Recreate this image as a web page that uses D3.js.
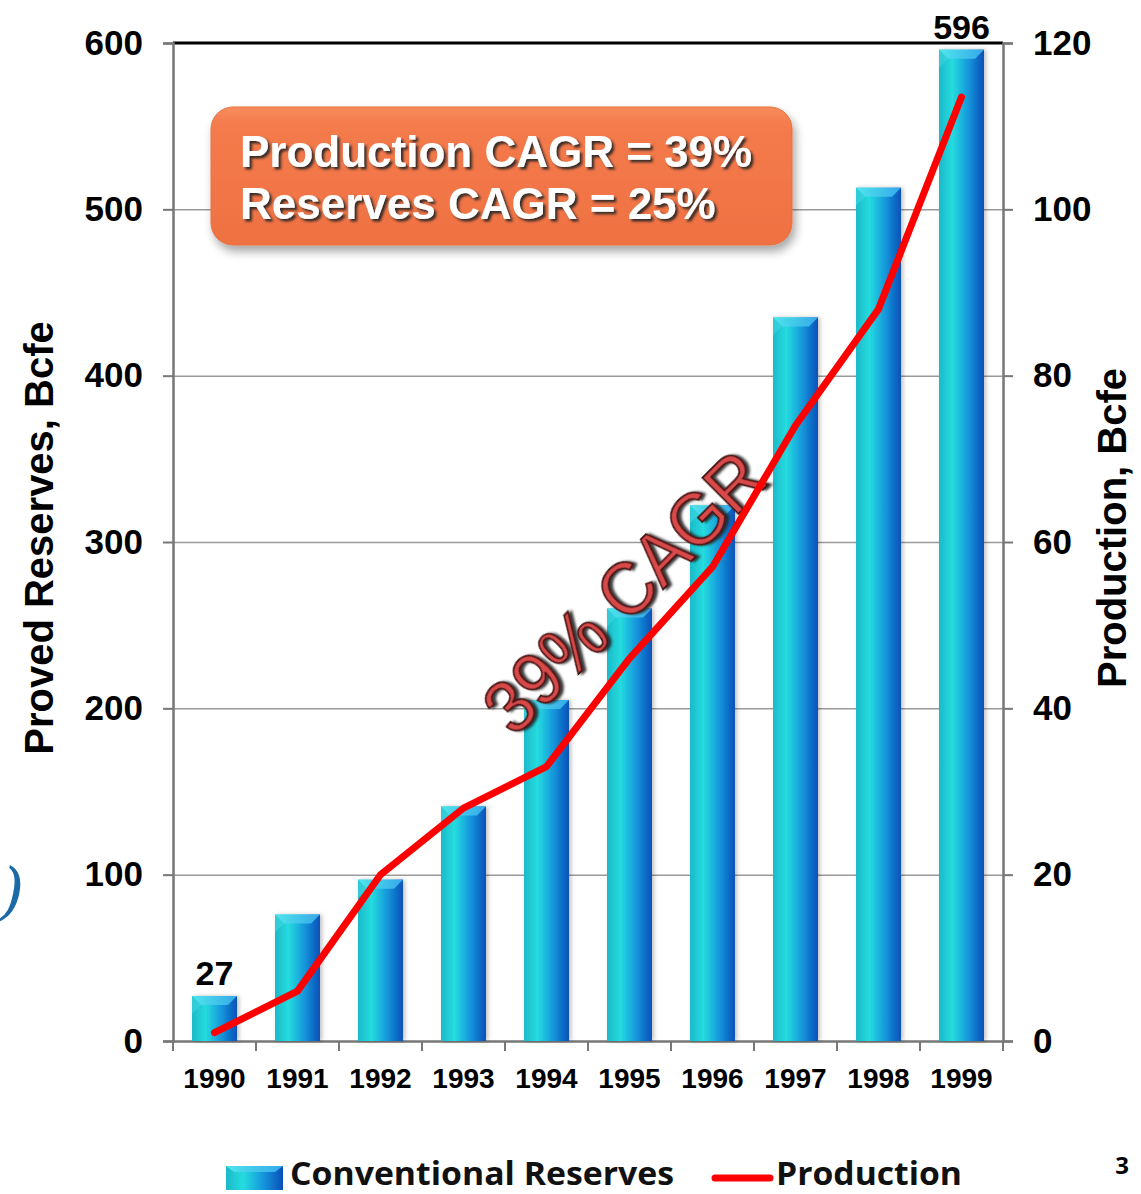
<!DOCTYPE html>
<html>
<head>
<meta charset="utf-8">
<script src="https://cdn.jsdelivr.net/npm/d3@7"></script>
<style>
  body { margin: 0; background: #fff; }
  svg text { font-family: "Liberation Sans", Arial, sans-serif; }
</style>
</head>
<body>
<div id="chart"></div>
<script>
// Chart data
const years = ["1990", "1991", "1992", "1993", "1994", "1995", "1996", "1997", "1998", "1999"];
const reserves = [27, 76, 97, 141, 205, 260, 322, 435, 513, 596];      // Bcfe, left axis
const production = [1, 6, 20, 28, 33, 46, 57, 74, 88, 113.5];         // Bcfe, right axis
const leftTicks = [0, 100, 200, 300, 400, 500, 600];
const rightTicks = [0, 20, 40, 60, 80, 100, 120];
const labelledBars = ["1990", "1999"];

// Plot box
const plotLeft = 173, plotRight = 1003, plotTop = 43, plotBottom = 1041;

const svg = d3.select("#chart")
    .append("svg")
    .attr("width", 1141)
    .attr("height", 1194);

const defs = svg.append("defs");

// bar body gradient (cyan -> blue)
const barGrad = defs.append("linearGradient").attr("id", "barGrad")
    .attr("x1", "0%").attr("x2", "100%").attr("y1", "0%").attr("y2", "0%");
barGrad.append("stop").attr("offset", "0%").attr("stop-color", "#1cb9c9");
barGrad.append("stop").attr("offset", "30%").attr("stop-color", "#25dcdf");
barGrad.append("stop").attr("offset", "65%").attr("stop-color", "#1597dc");
barGrad.append("stop").attr("offset", "100%").attr("stop-color", "#0850b8");

const capGrad = defs.append("linearGradient").attr("id", "capGrad")
    .attr("x1", "0%").attr("x2", "100%");
capGrad.append("stop").attr("offset", "0%").attr("stop-color", "#4fe6ec");
capGrad.append("stop").attr("offset", "100%").attr("stop-color", "#35a8ea");

const boxGrad = defs.append("linearGradient").attr("id", "boxGrad")
    .attr("x1", "0%").attr("x2", "0%").attr("y1", "0%").attr("y2", "100%");
boxGrad.append("stop").attr("offset", "0%").attr("stop-color", "#f88c5c");
boxGrad.append("stop").attr("offset", "12%").attr("stop-color", "#f47b4d");
boxGrad.append("stop").attr("offset", "100%").attr("stop-color", "#ef7142");

const shadow = defs.append("filter").attr("id", "boxShadow")
    .attr("x", "-10%").attr("y", "-20%").attr("width", "130%").attr("height", "150%");
shadow.append("feDropShadow").attr("dx", 3).attr("dy", 6).attr("stdDeviation", 5)
    .attr("flood-color", "#000").attr("flood-opacity", 0.35);

const textShadow = defs.append("filter").attr("id", "textShadow");
textShadow.append("feDropShadow").attr("dx", 2.5).attr("dy", 2.5).attr("stdDeviation", 0.8)
    .attr("flood-color", "#222").attr("flood-opacity", 0.9);

const barShadow = defs.append("filter").attr("id", "barShadow")
    .attr("x", "-20%").attr("width", "140%");
barShadow.append("feDropShadow").attr("dx", 2).attr("dy", 0).attr("stdDeviation", 2)
    .attr("flood-color", "#000").attr("flood-opacity", 0.25);

// Scales
const x = d3.scaleBand().domain(years).range([plotLeft, plotRight])
    .paddingInner(0.458).paddingOuter(0.229);
const yL = d3.scaleLinear().domain([0, 600]).range([plotBottom, plotTop]);
const yR = d3.scaleLinear().domain([0, 120]).range([plotBottom, plotTop]);

// Gridlines
svg.append("g")
    .attr("transform", `translate(${plotLeft},0)`)
    .call(d3.axisLeft(yL).tickValues(leftTicks.slice(1, -1)).tickSize(-(plotRight - plotLeft)).tickFormat(""))
    .call(g => g.select(".domain").remove())
    .selectAll("line").attr("stroke", "#9a9a9a").attr("stroke-width", 1.5);

// Frame: top border black
svg.append("line")
    .attr("x1", plotLeft).attr("x2", plotRight).attr("y1", plotTop).attr("y2", plotTop)
    .attr("stroke", "#000").attr("stroke-width", 3);

// Left axis
const axL = svg.append("g")
    .attr("transform", `translate(${plotLeft},0)`)
    .call(d3.axisLeft(yL).tickValues(leftTicks).tickSize(10).tickPadding(20));
axL.select(".domain").attr("stroke", "#777").attr("stroke-width", 2.5);
axL.selectAll("line").attr("stroke", "#777").attr("stroke-width", 2);
axL.selectAll("text").style("font-size", "35px").style("font-weight", "bold").attr("fill", "#000");

// Right axis
const axR = svg.append("g")
    .attr("transform", `translate(${plotRight},0)`)
    .call(d3.axisRight(yR).tickValues(rightTicks).tickSize(10).tickPadding(20));
axR.select(".domain").attr("stroke", "#777").attr("stroke-width", 2.5);
axR.selectAll("line").attr("stroke", "#777").attr("stroke-width", 2);
axR.selectAll("text").style("font-size", "35px").style("font-weight", "bold").attr("fill", "#000");

// Bottom axis: labels centred, ticks on band boundaries
const axB = svg.append("g")
    .attr("transform", `translate(0,${plotBottom})`)
    .call(d3.axisBottom(x).tickSize(0).tickPadding(27));
axB.select(".domain").attr("stroke", "#777").attr("stroke-width", 2.5);
axB.selectAll("text").style("font-size", "28px").style("font-weight", "bold").attr("fill", "#000");

const step = x.step();
svg.append("g").selectAll("line")
    .data(d3.range(years.length + 1))
    .join("line")
    .attr("x1", i => plotLeft + i * step).attr("x2", i => plotLeft + i * step)
    .attr("y1", plotBottom).attr("y2", plotBottom + 10)
    .attr("stroke", "#777").attr("stroke-width", 2);

// Bars
const bars = svg.append("g").selectAll("g")
    .data(years.map((y, i) => ({ year: y, value: reserves[i] })))
    .join("g");

bars.append("rect")
    .attr("x", d => x(d.year))
    .attr("y", d => yL(d.value))
    .attr("width", x.bandwidth())
    .attr("height", d => plotBottom - yL(d.value))
    .attr("fill", "url(#barGrad)")
    .attr("filter", "url(#barShadow)");

// bevelled top cap
const cap = 9;
bars.append("path")
    .attr("d", d => {
        const x0 = x(d.year), x1 = x0 + x.bandwidth(), y0 = yL(d.value);
        return `M${x0},${y0}L${x1},${y0}L${x1 - cap},${y0 + cap}L${x0 + cap},${y0 + cap}Z`;
    })
    .attr("fill", "url(#capGrad)");
bars.append("path")
    .attr("d", d => {
        const x0 = x(d.year), y0 = yL(d.value);
        return `M${x0},${y0}L${x0 + cap},${y0 + cap}L${x0},${y0 + cap * 2}Z`;
    })
    .attr("fill", "#3fd6e0").attr("opacity", 0.6);

// Value labels
svg.append("g").selectAll("text")
    .data(years.map((y, i) => ({ year: y, value: reserves[i] })).filter(d => labelledBars.includes(d.year)))
    .join("text")
    .attr("x", d => x(d.year) + x.bandwidth() / 2)
    .attr("y", d => yL(d.value) - 11)
    .attr("text-anchor", "middle")
    .style("font-size", "34px")
    .style("font-weight", "bold")
    .text(d => d.value);

// "39% CAGR" slanted label
svg.append("text")
    .attr("transform", "translate(628,596) rotate(-45)")
    .attr("text-anchor", "middle")
    .attr("dominant-baseline", "middle")
    .attr("textLength", 362).attr("lengthAdjust", "spacingAndGlyphs")
    .style("font-size", "74px")
    .attr("fill", "#d84a48")
    .attr("stroke", "#4a1414")
    .attr("stroke-width", 1.8)
    .attr("filter", "url(#textShadow)")
    .text("39% CAGR");

// Production line
const line = d3.line()
    .x((d, i) => x(years[i]) + x.bandwidth() / 2)
    .y(d => yR(d));
svg.append("path")
    .datum(production)
    .attr("d", line)
    .attr("fill", "none")
    .attr("stroke", "#ff0000")
    .attr("stroke-width", 7)
    .attr("stroke-linejoin", "round")
    .attr("stroke-linecap", "round");

// CAGR callout box
svg.append("rect")
    .attr("x", 211).attr("y", 107)
    .attr("width", 581).attr("height", 138)
    .attr("rx", 22)
    .attr("fill", "url(#boxGrad)")
    .attr("stroke", "#e8703f")
    .attr("filter", "url(#boxShadow)");

svg.append("g").selectAll("text")
    .data(["Production CAGR = 39%", "Reserves CAGR = 25%"])
    .join("text")
    .attr("x", 240)
    .attr("y", (d, i) => 167 + i * 52)
    .attr("fill", "#fff")
    .style("font-size", "44px")
    .style("font-weight", "bold")
    .attr("filter", "url(#textShadow)")
    .text(d => d);

// Axis titles
svg.append("text")
    .attr("transform", "translate(53,538) rotate(-90)")
    .attr("text-anchor", "middle")
    .style("font-size", "40px")
    .style("font-weight", "bold")
    .text("Proved Reserves, Bcfe");

svg.append("text")
    .attr("transform", "translate(1126,528) rotate(-90)")
    .attr("text-anchor", "middle")
    .style("font-size", "40px")
    .style("font-weight", "bold")
    .text("Production, Bcfe");

// Legend
const legend = svg.append("g").attr("class", "legend");
legend.append("rect")
    .attr("x", 226).attr("y", 1166).attr("width", 57).attr("height", 24)
    .attr("fill", "url(#barGrad)");
legend.append("path")
    .attr("d", "M226,1166L283,1166L275,1172L234,1172Z")
    .attr("fill", "url(#capGrad)");
legend.append("text")
    .attr("x", 290).attr("y", 1185)
    .attr("textLength", 384).attr("lengthAdjust", "spacingAndGlyphs")
    .style("font-size", "32px").style("font-weight", "bold")
    .style("font-family", "'Open Sans', sans-serif")
    .attr("fill", "#111")
    .text("Conventional Reserves");
legend.append("line")
    .attr("x1", 715).attr("x2", 770).attr("y1", 1178).attr("y2", 1178)
    .attr("stroke", "#ff0000").attr("stroke-width", 7).attr("stroke-linecap", "round");
legend.append("text")
    .attr("x", 776).attr("y", 1185)
    .attr("textLength", 186).attr("lengthAdjust", "spacingAndGlyphs")
    .style("font-size", "32px").style("font-weight", "bold")
    .style("font-family", "'Open Sans', sans-serif")
    .attr("fill", "#111")
    .text("Production");

// Slide page number and stray bracket from the slide
svg.append("text")
    .attr("x", 1122).attr("y", 1174)
    .attr("text-anchor", "middle")
    .style("font-size", "24px").style("font-weight", "bold")
    .style("font-family", "'Open Sans', sans-serif")
    .text("3");

svg.append("text")
    .attr("x", 0).attr("y", 912)
    .style("font-size", "62px").style("font-style", "italic")
    .style("font-family", "'DejaVu Serif', serif")
    .attr("fill", "#1b6aa5")
    .text(")");
</script>
</body>
</html>
